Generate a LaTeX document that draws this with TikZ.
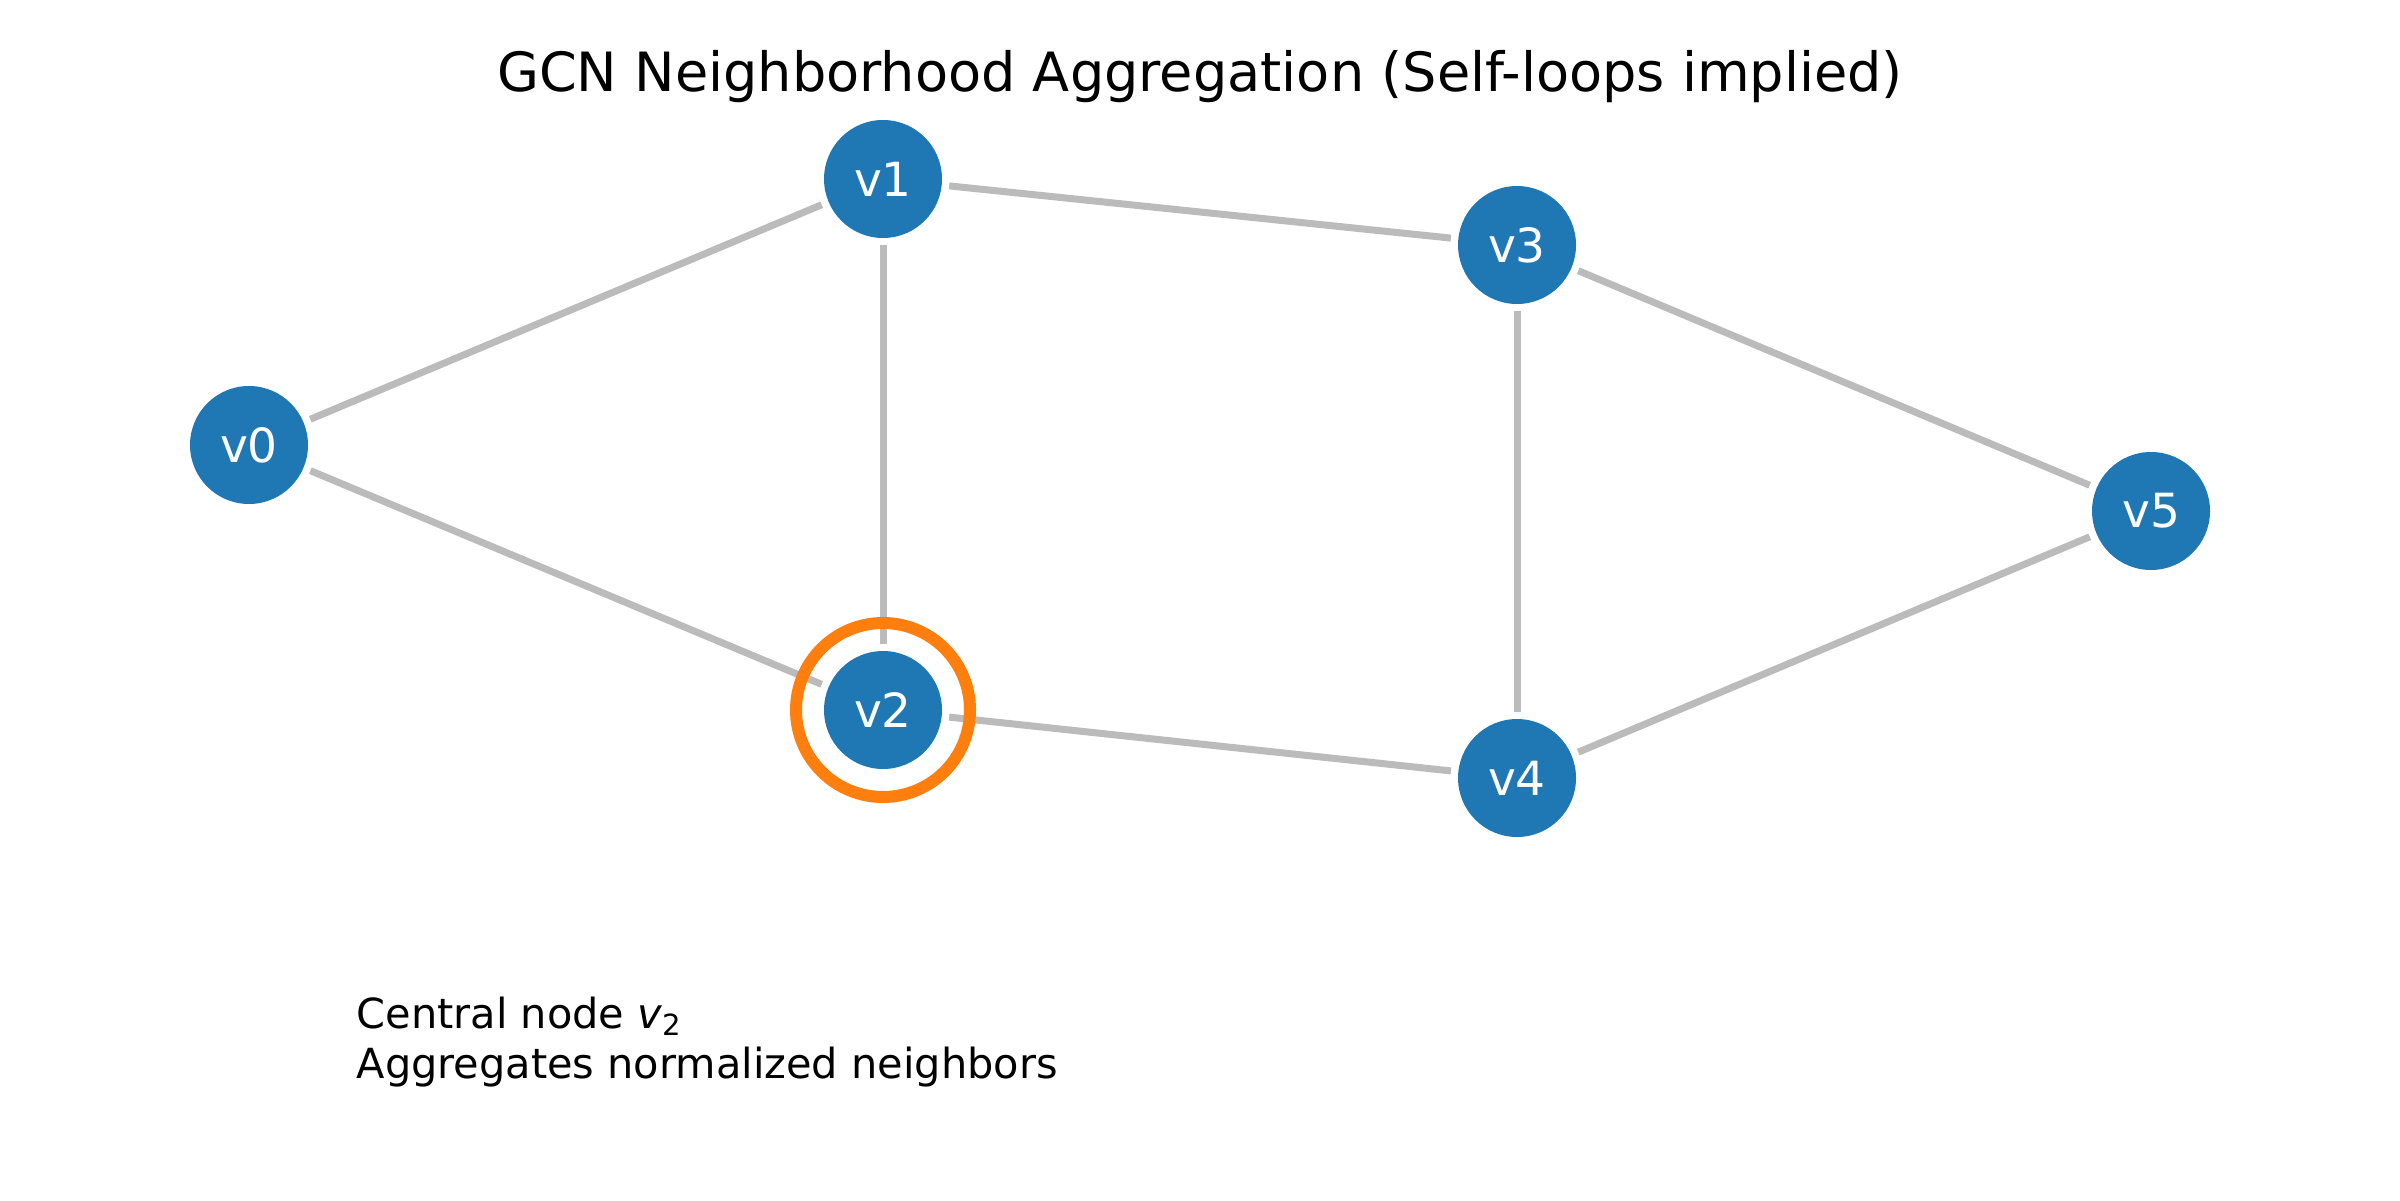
\documentclass[tikz,border=0pt]{standalone}
\usepackage{fontspec}
\setmainfont{DejaVu Sans}
\definecolor{nodeblue}{HTML}{1F77B4}
\definecolor{edgegray}{HTML}{BBBBBB}
\definecolor{ringorange}{HTML}{FF7F0E}
\begin{document}
\begin{tikzpicture}[x=1cm,y=1cm,
  vtx/.style={circle, fill=nodeblue, minimum size=1.18cm, inner sep=0pt, outer sep=0pt,
              text=white, font=\fontsize{13.4}{15}\selectfont},
  edge/.style={draw=edgegray, line width=0.07cm, shorten >=0.075cm, shorten <=0.075cm},
  ringstyle/.style={circle, draw=ringorange, line width=0.12cm, minimum size=1.74cm, inner sep=0pt, outer sep=0pt},
  titlestyle/.style={font=\fontsize{15.4}{18}\selectfont, inner sep=0pt},
  notestyle/.style={font=\fontsize{11.8}{14.0}\selectfont, inner sep=0pt, align=left}]
\useasboundingbox (0,0) rectangle (24,12);
\fill[white] (0,0) rectangle (24,12);
\node[titlestyle, anchor=base] (title) at (12.0,11.08) {GCN Neighborhood Aggregation (Self-loops implied)};
\node[vtx] (v0) at (2.49,7.55) {v0};
\node[vtx] (v1) at (8.83,10.21) {v1};
\node[vtx] (v2) at (8.83,4.90) {v2};
\node[vtx] (v3) at (15.17,9.55) {v3};
\node[vtx] (v4) at (15.17,4.22) {v4};
\node[vtx] (v5) at (21.51,6.89) {v5};
\draw[edge] (v0) -- (v1);
\draw[edge] (v0) -- (v2);
\draw[edge] (v1) -- (v2);
\draw[edge] (v1) -- (v3);
\draw[edge] (v2) -- (v4);
\draw[edge] (v3) -- (v4);
\draw[edge] (v3) -- (v5);
\draw[edge] (v4) -- (v5);
\node[ringstyle] (ring) at (v2.center) {};
\node[notestyle, anchor=base west] (note) at (3.56,1.22)
  {Central node {\itshape v}\raisebox{-0.3ex}{\fontsize{8.3}{9}\selectfont 2}\\Aggregates normalized neighbors};
\end{tikzpicture}
\end{document}
